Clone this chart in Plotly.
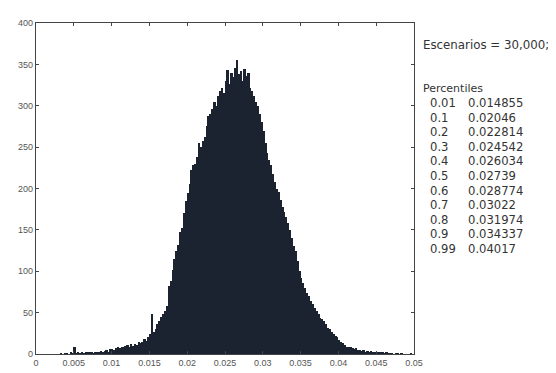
import numpy as np
import plotly.graph_objects as go

# Histogram: bins of width 0.00025 starting at 0.003
bin_start = 0.003
bin_width = 0.00025
counts = [
    0, 1, 0, 1,   1, 0, 2, 1,   8, 1, 2, 1,   2, 1, 3, 2,
    2, 3, 1, 3,   3, 2, 4, 3,   4, 5, 3, 6,   6, 5, 7, 8,
    7, 9, 8, 10,  11, 9, 12, 10, 12, 11, 14, 13, 15, 18, 16, 21,
    24, 48, 27, 30, 36, 40, 45, 48, 52, 58, 82, 88, 102, 115, 125, 132,
    148, 152, 170, 185, 195, 205, 222, 228, 230, 238, 255, 250, 258, 262, 275, 288,
    290, 296, 305, 300, 312, 318, 322, 316, 330, 343, 326, 340, 335, 346, 355, 338,
    342, 330, 345, 336, 340, 322, 318, 312, 305, 300, 290, 280, 270, 255, 243, 235,
    228, 218, 208, 200, 196, 186, 178, 172, 165, 158, 150, 140, 130, 124, 112, 100,
    92, 86, 80, 74, 70, 64, 60, 56, 52, 48, 44, 42, 40, 36, 32, 30,
    26, 24, 22, 20, 17, 15, 13, 11, 9, 8, 8, 7, 6, 7, 5, 5,
    4, 5, 3, 4, 3, 4, 2, 3, 2, 3, 2, 2, 1, 2, 1, 1,
    1, 0, 1, 1, 0, 1, 0, 0, 0, 0, 1, 0,
]
centers = bin_start + bin_width * (np.arange(len(counts)) + 0.5)

x_ticks = [0, 0.005, 0.01, 0.015, 0.02, 0.025, 0.03, 0.035, 0.04, 0.045, 0.05]
x_tick_labels = ["0", "0.005", "0.01", "0.015", "0.02", "0.025", "0.03", "0.035", "0.04", "0.045", "0.05"]
y_ticks = [0, 50, 100, 150, 200, 250, 300, 350, 400]

scenarios_text = "Escenarios = 30,000;"
percentile_levels = ["0.01", "0.1", "0.2", "0.3", "0.4", "0.5", "0.6", "0.7", "0.8", "0.9", "0.99"]
percentile_values = ["0.014855", "0.02046", "0.022814", "0.024542", "0.026034", "0.02739",
                     "0.028774", "0.03022", "0.031974", "0.034337", "0.04017"]

OFF = 8
W, H = 556 - OFF, 373 - OFF
L, R, T, B = 36 - OFF, 414 - OFF, 23 - OFF, 354 - OFF

fig = go.Figure()
fig.add_trace(go.Bar(
    x=centers, y=counts, width=bin_width,
    marker=dict(color="#1b2230", line=dict(width=0)),
    showlegend=False,
))

axis_common = dict(
    showline=True, linecolor="#444", linewidth=1.2, mirror="ticks",
    ticks="inside", ticklen=3, tickcolor="#444", tickwidth=1,
    showgrid=False, zeroline=False, automargin=False,
    tickfont=dict(family="Liberation Sans Narrow, Arial Narrow, Liberation Sans", size=9, color="#555"),
)
fig.update_xaxes(range=[0, 0.05], tickvals=x_ticks, ticktext=x_tick_labels, **axis_common)
fig.update_yaxes(range=[0, 400], tickvals=y_ticks, **axis_common)

def px_to_paper(px, py):
    px -= OFF
    py -= OFF
    return (px - L) / (R - L), (B - py) / (B - T)

ann = []
def add_text(text, px, py, size):
    xa, ya = px_to_paper(px, py)
    ann.append(dict(text=text, x=xa, y=ya, xref="paper", yref="paper",
                    xanchor="left", yanchor="middle", showarrow=False,
                    borderpad=0,
                    font=dict(family="DejaVu Sans", size=size, color="#333")))

add_text(scenarios_text, 422, 45, 11.8)
add_text("Percentiles", 422, 88, 11)
for i, (lv, val) in enumerate(zip(percentile_levels, percentile_values)):
    py = 103 + 14.6 * i
    add_text(lv, 429, py, 11.6)
    add_text(val, 467, py, 11.6)

fig.update_layout(
    width=W, height=H,
    margin=dict(l=L, r=W - R, t=T, b=H - B),
    paper_bgcolor="white", plot_bgcolor="white",
    bargap=0, annotations=ann,
)
fig.write_html("out.html")
